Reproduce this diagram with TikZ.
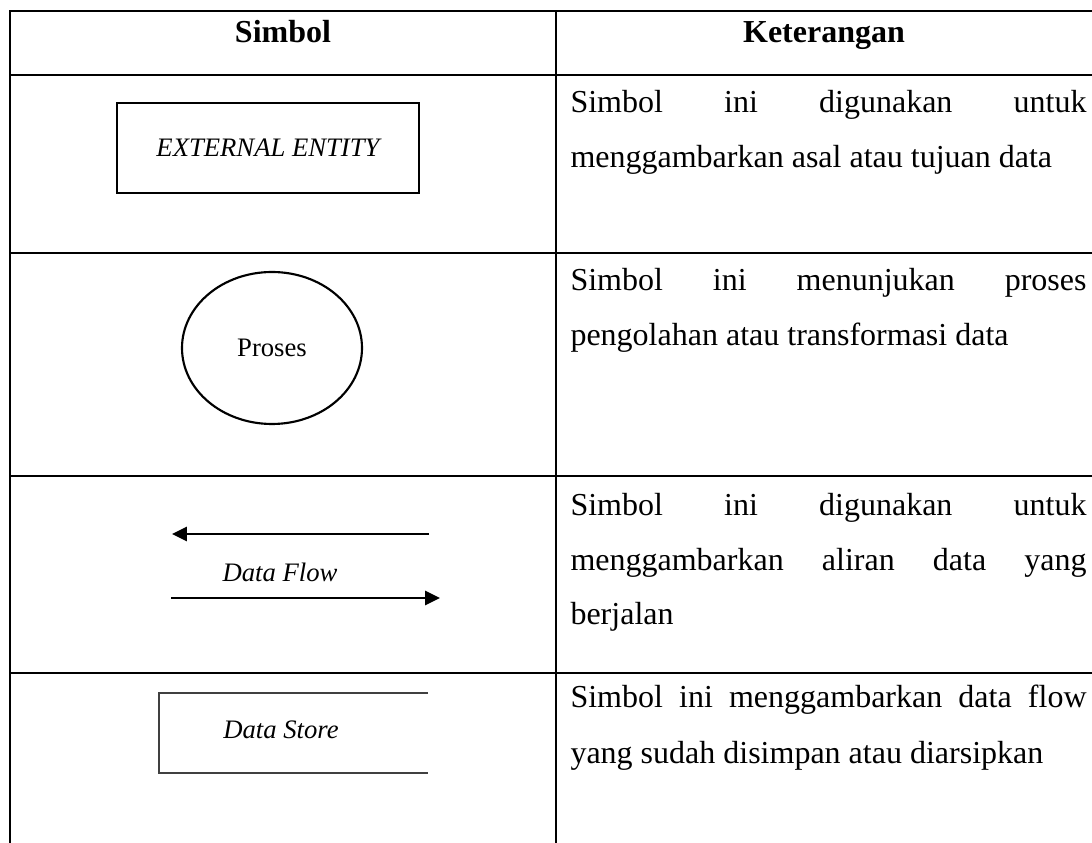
\documentclass[tikz,border=0pt]{standalone}
\usepackage{fontspec}
\setmainfont{Liberation Serif}
\usetikzlibrary{arrows.meta,shapes.geometric}
% one justified line of the description column
\newcommand{\jline}[1]{\makebox[193.5pt][s]{#1}}
\begin{document}
\begin{tikzpicture}[x=0.375pt,y=-0.375pt,
  rule/.style={line width=1.1pt},
  body/.style={anchor=base west, inner sep=0pt, font=\fontsize{12}{14}\selectfont},
  head/.style={anchor=base, inner sep=0pt, font=\fontsize{12}{14}\selectfont\bfseries},
  symlabel/.style={inner sep=0pt, font=\fontsize{10}{12}\selectfont},
  symline/.style={line width=0.8pt},
  flow/.style={line width=0.85pt, -{Triangle[length=5.6pt,width=5.3pt]}}]
\useasboundingbox (0,0) rectangle (1092,843);

% table rules
\draw[rule] (10,843) -- (10,11) -- (1092,11);
\draw[rule] (556,11) -- (556,843);
\draw[rule] (10,75) -- (1092,75);
\draw[rule] (10,253) -- (1092,253);
\draw[rule] (10,476) -- (1092,476);
\draw[rule] (10,673) -- (1092,673);

% header
\node[head] (hsym) at (283,43) {Simbol};
\node[head] (hket) at (824,43) {Keterangan};

% external entity
\node[draw, symline, symlabel, minimum width=113.25pt, minimum height=33.75pt]
  (entity) at (268,148) {\itshape EXTERNAL ENTITY};

% process
\node[draw, symline, symlabel, ellipse, minimum width=67.5pt, minimum height=57pt]
  (proc) at (272,348) {Proses};

% data flow
\coordinate (fl1s) at (429,534);
\coordinate (fl1e) at (172,534);
\coordinate (fl2s) at (171,598);
\coordinate (fl2e) at (440,598);
\draw[flow] (fl1s) -- (fl1e);
\draw[flow] (fl2s) -- (fl2e);
\node[symlabel, anchor=base] (flowlbl) at (280,582) {\itshape Data Flow};

% data store
\coordinate (ds1) at (428,693);
\coordinate (ds2) at (159,693);
\coordinate (ds3) at (159,773);
\coordinate (ds4) at (428,773);
\draw[line width=0.6pt, black!75] (ds1) -- (ds2) -- (ds3) -- (ds4);
\node[symlabel, anchor=base] (storelbl) at (281,739) {\itshape Data Store};

% descriptions
\node[body] (d1a) at (570,113) {\jline{Simbol ini digunakan untuk}};
\node[body] (d1b) at (570,168) {menggambarkan asal atau tujuan data};

\node[body] (d2a) at (570,291) {\jline{Simbol ini menunjukan proses}};
\node[body] (d2b) at (570,346) {pengolahan atau transformasi data};

\node[body] (d3a) at (570,516) {\jline{Simbol ini digunakan untuk}};
\node[body] (d3b) at (570,571) {\jline{menggambarkan aliran data yang}};
\node[body] (d3c) at (570,625) {berjalan};

\node[body] (d4a) at (570,708) {\jline{Simbol ini menggambarkan data flow}};
\node[body] (d4b) at (570,763) {yang sudah disimpan atau diarsipkan};
\end{tikzpicture}
\end{document}
